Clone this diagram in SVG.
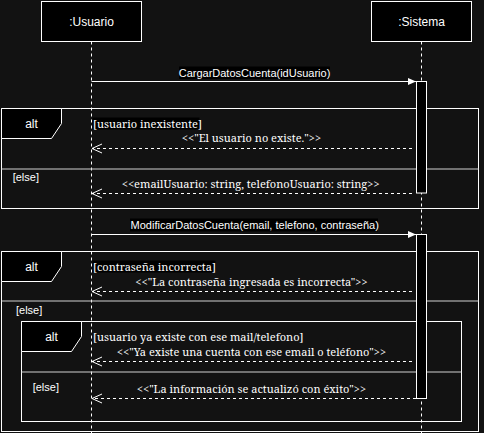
<svg xmlns="http://www.w3.org/2000/svg" width="484" height="433" viewBox="0 0 484 433">
<style>
.bg{fill:#121212}
.box{fill:#000;stroke:#fff;stroke-width:1}
.frame{fill:none;stroke:#fff;stroke-width:1}
.tab{fill:#000;stroke:#fff;stroke-width:1}
.sep{stroke:#d0d0d0;stroke-width:1}
.life{stroke:#fff;stroke-width:1;stroke-dasharray:3 3;fill:none}
.act{fill:#000;stroke:#fff;stroke-width:1}
.msg{stroke:#fff;stroke-width:1;fill:none}
.ret{stroke:#fff;stroke-width:1;stroke-dasharray:3 3;fill:none}
.lbg{fill:#000}
.sans{font-family:"Liberation Sans",Arial,sans-serif;fill:#fff}
.serif{font-family:"Noto Serif","DejaVu Serif","Liberation Serif",serif;font-size:11px;fill:#fff}
</style>
<defs>
<marker id="block" markerWidth="8" markerHeight="8" refX="8" refY="4" orient="auto" markerUnits="userSpaceOnUse">
<path d="M0,0.5 L8,4 L0,7.5 Z" fill="#fff"/>
</marker>
<marker id="open" markerWidth="12" markerHeight="12" refX="11" refY="6" orient="auto" markerUnits="userSpaceOnUse">
<path d="M1,1.5 L11,6 L1,10.5" fill="none" stroke="#fff" stroke-width="1"/>
</marker>
</defs>
<rect class="bg" x="0" y="0" width="484" height="433"/>

<g id="lifelines">
<line class="life" x1="91.5" y1="41.5" x2="91.5" y2="433"/>
<line class="life" x1="421.5" y1="41.5" x2="421.5" y2="433"/>
</g>

<g id="usuario">
<rect class="box" x="41.5" y="1.5" width="100" height="40"/>
<text class="sans" x="91.5" y="25.5" font-size="12" text-anchor="middle">:Usuario</text>
</g>
<g id="sistema">
<rect class="box" x="371.5" y="1.5" width="100" height="40"/>
<text class="sans" x="421.5" y="25.5" font-size="12" text-anchor="middle">:Sistema</text>
</g>

<g id="alt1">
<rect class="frame" x="1.5" y="108.5" width="477" height="100"/>
<path class="tab" d="M1.5,108.5 H61.5 V123.5 L51.5,138.5 H1.5 Z"/>
<text class="sans" x="31.5" y="127.5" font-size="12" text-anchor="middle">alt</text>
<line class="sep" x1="1.5" y1="169" x2="478.5" y2="169"/>
<rect class="lbg" x="92.5" y="117.5" width="107" height="12"/>
<text class="serif" x="93" y="127.5">[usuario inexistente]</text>
<text class="sans" x="12.7" y="181" font-size="11">[else]</text>
</g>

<g id="alt2">
<rect class="frame" x="1.5" y="251.5" width="477" height="180"/>
<path class="tab" d="M1.5,251.5 H61.5 V266.5 L51.5,281.5 H1.5 Z"/>
<text class="sans" x="31.5" y="270.5" font-size="12" text-anchor="middle">alt</text>
<line class="sep" x1="1.5" y1="301" x2="478.5" y2="301"/>
<rect class="lbg" x="92.5" y="260.5" width="123" height="12"/>
<text class="serif" x="93" y="270.5">[contraseña incorrecta]</text>
<text class="sans" x="16" y="314" font-size="11">[else]</text>
</g>

<g id="alt3">
<rect class="frame" x="21.5" y="321.5" width="440" height="100"/>
<path class="tab" d="M21.5,321.5 H81.5 V336.5 L71.5,351.5 H21.5 Z"/>
<text class="sans" x="51.5" y="340.5" font-size="12" text-anchor="middle">alt</text>
<line class="sep" x1="21.5" y1="372" x2="461.5" y2="372"/>
<text class="serif" x="93" y="340.5">[usuario ya existe con ese mail/telefono]</text>
<text class="sans" x="32.7" y="390.5" font-size="11">[else]</text>
</g>

<g id="activations">
<rect class="act" x="416.5" y="81.5" width="10" height="111.5"/>
<rect class="act" x="416.5" y="234.5" width="10" height="164"/>
</g>

<g id="connectors">
<line class="msg" x1="91.5" y1="81.5" x2="416" y2="81.5" marker-end="url(#block)"/>
<rect class="lbg" x="179" y="66.5" width="151" height="12.5"/>
<text class="sans" x="254.5" y="76.5" font-size="11" text-anchor="middle">CargarDatosCuenta(idUsuario)</text>

<line class="ret" x1="412" y1="148.5" x2="92" y2="148.5" marker-end="url(#open)"/>
<text class="serif" x="251.5" y="142" text-anchor="middle">&lt;&lt;"El usuario no existe."&gt;&gt;</text>

<line class="ret" x1="412" y1="193.5" x2="92" y2="193.5" marker-end="url(#open)"/>
<text class="serif" x="250.7" y="187.5" text-anchor="middle">&lt;&lt;emailUsuario: string, telefonoUsuario: string&gt;&gt;</text>

<line class="msg" x1="91.5" y1="234.5" x2="416" y2="234.5" marker-end="url(#block)"/>
<rect class="lbg" x="130" y="218.5" width="248" height="13"/>
<text class="sans" x="254.7" y="229" font-size="11" text-anchor="middle">ModificarDatosCuenta(email, telefono, contraseña)</text>

<line class="ret" x1="412" y1="291.5" x2="92" y2="291.5" marker-end="url(#open)"/>
<text class="serif" x="251.5" y="285.5" text-anchor="middle">&lt;&lt;"La contraseña ingresada es incorrecta"&gt;&gt;</text>

<line class="ret" x1="412" y1="361.5" x2="92" y2="361.5" marker-end="url(#open)"/>
<text class="serif" x="251.5" y="355.5" text-anchor="middle">&lt;&lt;"Ya existe una cuenta con ese email o teléfono"&gt;&gt;</text>

<line class="ret" x1="416" y1="398.5" x2="92" y2="398.5" marker-end="url(#open)"/>
<text class="serif" x="251.5" y="392.5" text-anchor="middle">&lt;&lt;"La información se actualizó con éxito"&gt;&gt;</text>
</g>
</svg>
